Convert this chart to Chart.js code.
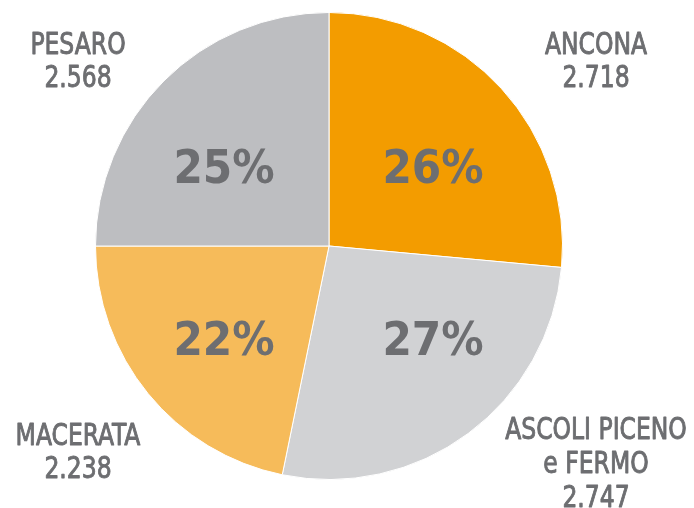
<!DOCTYPE html>
<html><head><meta charset="utf-8">
<script src="https://cdn.jsdelivr.net/npm/chart.js@4/dist/chart.umd.min.js"></script>
<style>html,body{margin:0;padding:0;background:#fff}#wrap{width:694px;height:508px;position:relative}</style>
</head><body><div id="wrap"><canvas id="c" width="694" height="508"></canvas></div>
<script>
const categories = ["ANCONA", "ASCOLI PICENO e FERMO", "MACERATA", "PESARO"];
const labelLines = [["ANCONA"], ["ASCOLI PICENO", "e FERMO"], ["MACERATA"], ["PESARO"]];
const values = [2718, 2747, 2238, 2568];
const valueLabels = ["2.718", "2.747", "2.238", "2.568"];
const colors = ["#F39C00", "#D1D2D4", "#F6BB5A", "#BDBEC1"];

const textColor = "#6D6E71";
const total = values.reduce((a, b) => a + b, 0);

// label layout (relative to pie center for %, absolute for outer labels)
const pctOffsets = [[104, -63], [104, 109], [-105, 109], [-105, -63]];
const outerPos = [[596, 54, 33], [596, 439, 34], [78, 445, 33], [78, 54, 33]];
const labelScaleX = 0.87;

const labelPlugin = {
  id: 'labels',
  afterDatasetsDraw(chart) {
    const ctx = chart.ctx;
    const meta = chart.getDatasetMeta(0);
    ctx.save();
    ctx.textAlign = 'center';
    ctx.textBaseline = 'alphabetic';
    ctx.fillStyle = textColor;
    ctx.strokeStyle = textColor;
    ctx.lineJoin = 'round';
    meta.data.forEach((arc, i) => {
      const pct = Math.round(values[i] / total * 100) + '%';
      ctx.font = 'bold 47px "DejaVu Sans Condensed", "DejaVu Sans"';
      ctx.fillText(pct, arc.x + pctOffsets[i][0], arc.y + pctOffsets[i][1]);
      const lines = labelLines[i].concat([valueLabels[i]]);
      ctx.font = '30px "DejaVu Sans Condensed", "DejaVu Sans"';
      ctx.lineWidth = 0.9;
      lines.forEach((t, k) => {
        ctx.save();
        ctx.translate(outerPos[i][0], outerPos[i][1] + k * outerPos[i][2]);
        ctx.scale(labelScaleX, 1);
        ctx.fillText(t, 0, 0);
        ctx.strokeText(t, 0, 0);
        ctx.restore();
      });
    });
    ctx.restore();
  }
};

new Chart(document.getElementById('c'), {
  type: 'pie',
  data: {
    labels: categories,
    datasets: [{
      data: values,
      backgroundColor: colors,
      borderColor: '#ffffff',
      borderWidth: 1
    }]
  },
  options: {
    responsive: false,
    animation: false,
    layout: { padding: { left: 95, right: 131, top: 12, bottom: 28 } },
    plugins: { legend: { display: false }, tooltip: { enabled: false } }
  },
  plugins: [labelPlugin]
});
</script></body></html>
